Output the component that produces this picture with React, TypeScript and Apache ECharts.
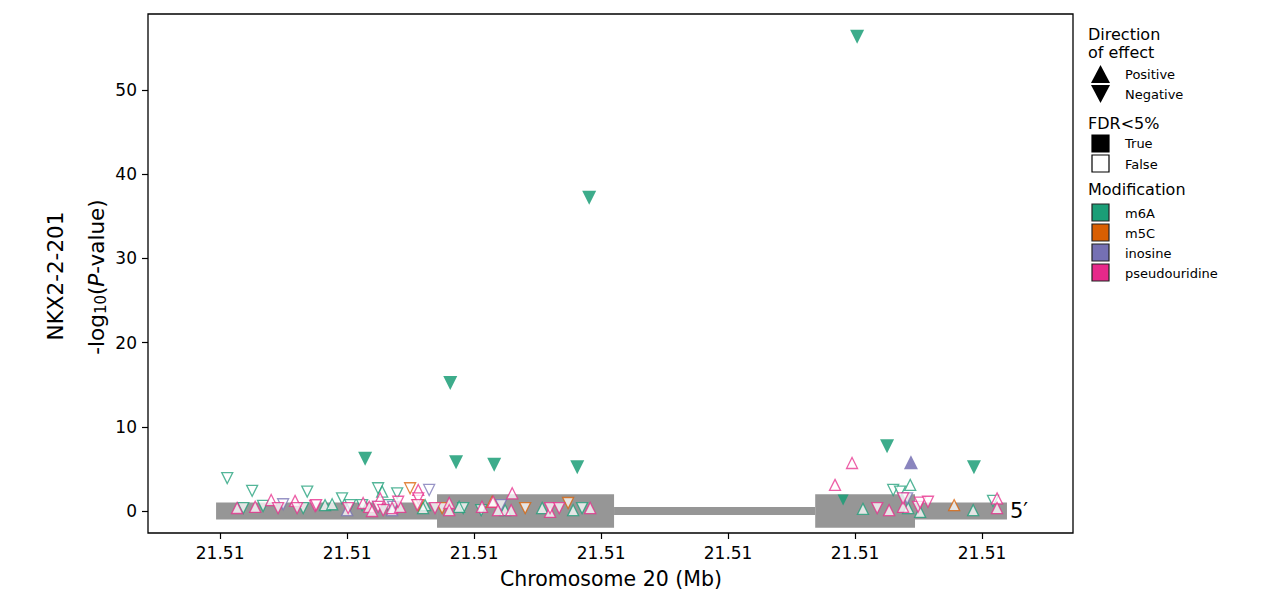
import React, { useEffect, useRef } from 'react';
import * as echarts from 'echarts';

// genomic positions are stored as bp offsets from this origin (chr20)
const GENE_ORIGIN = 21511000;
const X_MIN = GENE_ORIGIN - 284;
const X_MAX = GENE_ORIGIN + 3358;
const X_TICKS = [0, 500, 1000, 1500, 2000, 2500, 3000];
const Y_MIN = -2.61;
const Y_MAX = 59.0;
const Y_TICKS = [0, 10, 20, 30, 40, 50];

// gene model of NKX2-2-201 (minus strand, 5' on the right)
const geneStarts = [-16, 854, 1551, 2343, 2736];
const geneEnds = [854, 1551, 2343, 2736, 3098];
const geneKinds = ['utr', 'cds', 'intron', 'cds', 'utr'];
const FEATURE_HALF = { utr: 1.0, cds: 2.0, intron: 0.48 } as Record<string, number>;

const MOD_NAMES = ['m6A', 'm5C', 'inosine', 'pseudouridine'];
const MOD_COLORS = ['#1b9e77', '#d95f02', '#7570b3', '#e7298a'];

// [bp offset, -log10(P), direction (1 up / -1 down), FDR<5% (1/0)]
const m6aPoints: number[][] = [
  [28, 3.9, -1, 0], [126, 2.4, -1, 0], [91, 0.35, -1, 0], [169, 0.6, -1, 0],
  [327, 0.35, -1, 0], [343, 2.3, -1, 0], [480, 1.5, -1, 0], [512, 0.7, -1, 0],
  [559, 0.7, -1, 0], [622, 2.7, -1, 0], [661, 0.7, -1, 0], [697, 2.1, -1, 0],
  [957, 0.35, -1, 0], [1028, 0.1, -1, 0], [1425, 0.35, -1, 0], [2650, 2.5, -1, 0],
  [2677, 2.3, -1, 0], [3043, 1.2, -1, 0],
  [413, 0.7, 1, 0], [441, 0.8, 1, 0], [638, 2.3, 1, 0], [807, 0.7, 1, 0],
  [799, 0.35, 1, 0], [941, 0.5, 1, 0], [1122, 0.1, 1, 0], [1268, 0.35, 1, 0],
  [1390, 0.1, 1, 0], [2531, 0.25, 1, 0], [2709, 0.35, 1, 0], [2717, 3.1, 1, 0],
  [2756, -0.1, 1, 0], [2965, 0.1, 1, 0],
  [2508, 56.3, -1, 1], [1453, 37.2, -1, 1], [906, 15.2, -1, 1], [571, 6.2, -1, 1],
  [929, 5.8, -1, 1], [1079, 5.5, -1, 1], [1406, 5.2, -1, 1], [2626, 7.7, -1, 1],
  [2968, 5.2, -1, 1], [2453, 1.3, -1, 1],
];

const m5cPoints: number[][] = [
  [748, 2.7, -1, 0], [780, 0.7, -1, 0], [874, 0.35, -1, 0], [1201, 0.35, -1, 0],
  [1370, 0.95, -1, 0], [1071, 1.1, 1, 0], [2890, 0.7, 1, 0],
];

const inosinePoints: number[][] = [
  [248, 0.8, -1, 0], [622, 0.5, -1, 0], [681, 0.5, -1, 0], [823, 2.5, -1, 0],
  [1106, 0.7, -1, 0], [2705, 1.5, -1, 0], [500, 0.1, 1, 0], [677, 0.1, 1, 0],
  [2720, 5.8, 1, 1],
];

const pseudoPoints: number[][] = [
  [67, 0.36, 1, 0], [138, 0.5, 1, 0], [201, 1.3, 1, 0], [295, 1.2, 1, 0],
  [563, 0.95, 1, 0], [587, 0.5, 1, 0], [598, 0.0, 1, 0], [630, 1.5, 1, 0],
  [677, 0.35, 1, 0], [709, 0.5, 1, 0], [780, 2.5, 1, 0], [902, 0.95, 1, 0],
  [902, 0.1, 1, 0], [1031, 0.5, 1, 0], [1075, 1.1, 1, 0], [1094, 0.1, 1, 0],
  [1150, 2.1, 1, 0], [1146, 0.1, 1, 0], [1299, -0.1, 1, 0], [1457, 0.35, 1, 0],
  [2421, 3.1, 1, 0], [2488, 5.7, 1, 0], [2634, 0.1, 1, 0], [2689, 0.5, 1, 0],
  [3059, 1.5, 1, 0], [3059, 0.35, 1, 0],
  [228, 0.35, -1, 0], [303, 0.35, -1, 0], [374, 0.6, -1, 0], [378, 0.7, -1, 0],
  [504, 0.35, -1, 0], [622, 0.5, -1, 0], [642, 0.1, -1, 0], [701, 1.1, -1, 0],
  [780, 1.5, -1, 0], [776, 0.7, -1, 0], [846, 0.35, -1, 0], [1299, 0.35, -1, 0],
  [1335, 0.35, -1, 0], [2587, 0.35, -1, 0], [2689, 1.5, -1, 0], [2748, 0.5, -1, 0],
  [2756, 1.0, -1, 0], [2787, 1.1, -1, 0],
];

const FONT = 'DejaVu Sans';

const makeScatter = (name: string, color: string, pts: number[][]) => ({
  type: 'scatter',
  name,
  z: 3,
  silent: true,
  emphasis: { disabled: true },
  data: pts.map(([pos, p, dir, fdr]) => ({
    value: [GENE_ORIGIN + pos, p],
    symbol: 'triangle',
    symbolRotate: dir < 0 ? 180 : 0,
    // the filled one sitting on the gene body is drawn smaller in the original
    symbolSize: fdr ? (p < 3 ? 11 : 14) : 11,
    itemStyle: fdr
      ? { color, opacity: 0.85, borderWidth: 0 }
      : { color: '#ffffff', borderColor: color, borderWidth: 1.3, opacity: 0.75 },
  })),
});

const buildLegend = () => {
  const els: any[] = [];
  const title = (text: string, y: number) =>
    els.push({ type: 'text', x: 1088, y, style: { text, fontSize: 16, fontFamily: FONT, fill: '#000', verticalAlign: 'middle' } });
  const label = (text: string, y: number) =>
    els.push({ type: 'text', x: 1125, y, style: { text, fontSize: 13, fontFamily: FONT, fill: '#000', verticalAlign: 'middle' } });

  title('Direction', 34);
  title('of effect', 52);
  els.push({ type: 'polygon', shape: { points: [[1091, 83], [1110, 83], [1100.5, 65]] }, style: { fill: '#000' } });
  els.push({ type: 'polygon', shape: { points: [[1091, 85], [1110, 85], [1100.5, 103]] }, style: { fill: '#000' } });
  label('Positive', 74);
  label('Negative', 94);

  title('FDR<5%', 123);
  els.push({ type: 'rect', shape: { x: 1092, y: 135, width: 17, height: 17 }, style: { fill: '#000', stroke: '#000', lineWidth: 1.2 } });
  els.push({ type: 'rect', shape: { x: 1092, y: 155, width: 17, height: 17 }, style: { fill: '#fff', stroke: '#000', lineWidth: 1.2 } });
  label('True', 143);
  label('False', 164);

  title('Modification', 189);
  MOD_NAMES.forEach((name, i) => {
    els.push({ type: 'rect', shape: { x: 1092, y: 204 + i * 20, width: 17, height: 17 }, style: { fill: MOD_COLORS[i], stroke: '#222', lineWidth: 1.2 } });
    label(name, 213 + i * 20);
  });
  return els;
};

const App: React.FC = () => {
  const chartRef = useRef<HTMLDivElement>(null);

  useEffect(() => {
    if (!chartRef.current) return;
    const chart = echarts.init(chartRef.current, null, { renderer: 'svg' });

    const option: any = {
      animation: false,
      backgroundColor: '#ffffff',
      textStyle: { fontFamily: FONT },
      grid: {
        left: 148, top: 14, right: 207, bottom: 65,
        show: true, borderColor: '#000', borderWidth: 1.3, backgroundColor: 'transparent',
      },
      xAxis: {
        type: 'value',
        position: 'bottom',
        min: X_MIN,
        max: X_MAX,
        axisLine: { show: false, onZero: false },
        splitLine: { show: false },
        axisTick: {
          show: true, length: 6, lineStyle: { color: '#000', width: 1.2 },
          customValues: X_TICKS.map((t) => GENE_ORIGIN + t),
        },
        axisLabel: {
          color: '#000', fontSize: 17, fontFamily: FONT, margin: 11,
          customValues: X_TICKS.map((t) => GENE_ORIGIN + t),
          formatter: (v: number) => (v / 1e6).toFixed(2),
        },
      },
      yAxis: {
        type: 'value',
        position: 'left',
        min: Y_MIN,
        max: Y_MAX,
        axisLine: { show: false, onZero: false },
        splitLine: { show: false },
        axisTick: {
          show: true, length: 6, lineStyle: { color: '#000', width: 1.2 },
          customValues: Y_TICKS,
        },
        axisLabel: {
          color: '#000', fontSize: 17, fontFamily: FONT, margin: 11,
          customValues: Y_TICKS,
          formatter: (v: number) => String(v),
        },
      },
      graphic: [
        ...buildLegend(),
        {
          type: 'text', x: 611, y: 579,
          style: { text: 'Chromosome 20 (Mb)', fontSize: 20.5, fontFamily: FONT, fill: '#000', align: 'center', verticalAlign: 'middle' },
        },
        {
          type: 'text', x: 55, y: 276, rotation: Math.PI / 2,
          style: { text: 'NKX2-2-201', fontSize: 21.5, fontFamily: FONT, fill: '#000', align: 'center', verticalAlign: 'middle' },
        },
        {
          type: 'text', x: 96, y: 277, rotation: Math.PI / 2,
          style: {
            text: '-log{sub|10}({it|P}-value)',
            fontSize: 21.5, fontFamily: FONT, fill: '#000', align: 'center', verticalAlign: 'middle',
            rich: {
              sub: { fontSize: 15, fontFamily: FONT, fill: '#000', padding: [10, 0, 0, 0] },
              it: { fontSize: 21.5, fontFamily: FONT, fontStyle: 'italic', fill: '#000' },
            },
          },
        },
      ],
      series: [
        {
          type: 'custom',
          z: 1,
          silent: true,
          encode: { x: [0, 1], y: 2 },
          data: geneStarts.map((s, i) => [GENE_ORIGIN + s, GENE_ORIGIN + geneEnds[i], i]),
          renderItem: (_params: any, api: any) => {
            const half = FEATURE_HALF[geneKinds[api.value(2)]];
            const p0 = api.coord([api.value(0), half]);
            const p1 = api.coord([api.value(1), -half]);
            return {
              type: 'rect',
              shape: { x: p0[0], y: p0[1], width: p1[0] - p0[0], height: p1[1] - p0[1] },
              style: { fill: '#969696' },
            };
          },
        },
        {
          type: 'custom',
          z: 1,
          silent: true,
          data: [[GENE_ORIGIN + geneEnds[geneEnds.length - 1], 0]],
          renderItem: (_params: any, api: any) => {
            const p = api.coord([api.value(0), api.value(1)]);
            return {
              type: 'text',
              x: p[0] + 3,
              y: p[1],
              style: { text: '5\u2032', fontSize: 21, fontFamily: FONT, fill: '#000', verticalAlign: 'middle' },
            };
          },
        },
        makeScatter('m6A', MOD_COLORS[0], m6aPoints),
        makeScatter('m5C', MOD_COLORS[1], m5cPoints),
        makeScatter('inosine', MOD_COLORS[2], inosinePoints),
        makeScatter('pseudouridine', MOD_COLORS[3], pseudoPoints),
      ],
    };

    chart.setOption(option);
    return () => {
      chart.dispose();
    };
  }, []);

  return (
    <div
      ref={chartRef}
      style={{ position: 'fixed', left: 0, top: 0, width: 1280, height: 598 }}
    />
  );
};

export default App;
